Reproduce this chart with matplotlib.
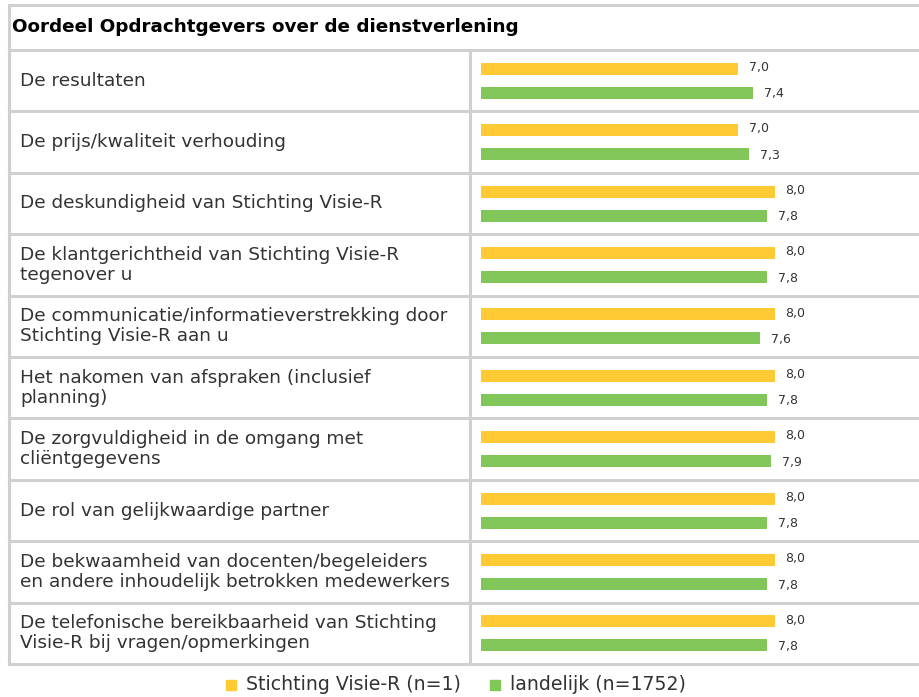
import matplotlib
matplotlib.use("Agg")
import matplotlib.pyplot as plt
from matplotlib.patches import Rectangle

title = "Oordeel Opdrachtgevers over de dienstverlening"
categories = [
    "De resultaten",
    "De prijs/kwaliteit verhouding",
    "De deskundigheid van Stichting Visie-R",
    "De klantgerichtheid van Stichting Visie-R\ntegenover u",
    "De communicatie/informatieverstrekking door\nStichting Visie-R aan u",
    "Het nakomen van afspraken (inclusief\nplanning)",
    "De zorgvuldigheid in de omgang met\ncliëntgegevens",
    "De rol van gelijkwaardige partner",
    "De bekwaamheid van docenten/begeleiders\nen andere inhoudelijk betrokken medewerkers",
    "De telefonische bereikbaarheid van Stichting\nVisie-R bij vragen/opmerkingen",
]
series_names = ["Stichting Visie-R (n=1)", "landelijk (n=1752)"]
visie = [7.0, 7.0, 8.0, 8.0, 8.0, 8.0, 8.0, 8.0, 8.0, 8.0]
landelijk = [7.4, 7.3, 7.8, 7.8, 7.6, 7.8, 7.9, 7.8, 7.8, 7.8]
colors = ["#FFCA33", "#82C65A"]

W, H = 920, 697
fig = plt.figure(figsize=(W / 100, H / 100), dpi=100)
bg = fig.add_axes([0, 0, 1, 1])
bg.set_xlim(0, W)
bg.set_ylim(H, 0)
bg.axis("off")

line_c = "#D0D0D0"
lw = 2.2
top, title_bot, bottom = 5, 50, 664
left, div = 9, 470
n = len(categories)
row_h = (bottom - title_bot) / n

# table lines
bg.plot([left, left], [top, bottom], color=line_c, lw=lw, solid_capstyle="butt")
bg.plot([left, W], [top, top], color=line_c, lw=lw)
for i in range(n + 1):
    y = title_bot + i * row_h
    bg.plot([left, W], [y, y], color=line_c, lw=lw)
bg.plot([div, div], [title_bot, bottom], color=line_c, lw=lw)

bg.text(12, 27, title, fontsize=13.2, fontweight="bold", va="center", ha="left", color="#000000")
for i, c in enumerate(categories):
    y = title_bot + (i + 0.5) * row_h
    bg.text(20, y, c, fontsize=13.3, va="center", ha="left", color="#333333", linespacing=1.12)

# bars
ax = fig.add_axes([481 / W, (H - bottom) / H, 367 / W, (bottom - title_bot) / H])
ax.set_xlim(0, 10)
ax.set_ylim(n, 0)
ax.axis("off")
off = 12 / row_h
bh = 12 / row_h
ys = [i + 0.5 for i in range(n)]
ax.barh([y - off for y in ys], visie, height=bh, color=colors[0])
ax.barh([y + off for y in ys], landelijk, height=bh, color=colors[1])
for y, v in zip(ys, visie):
    ax.text(v + 0.3, y - off - 0.02, f"{v:.1f}".replace(".", ","), fontsize=9, va="center", ha="left", color="#333333")
for y, v in zip(ys, landelijk):
    ax.text(v + 0.3, y + off + 0.02, f"{v:.1f}".replace(".", ","), fontsize=9, va="center", ha="left", color="#333333")

# legend
ly = 685
bg.add_patch(Rectangle((226, ly - 5), 10, 10, color=colors[0]))
bg.text(246, ly, series_names[0], fontsize=13.6, va="center", ha="left", color="#333333")
bg.add_patch(Rectangle((490, ly - 5), 10, 10, color=colors[1]))
bg.text(510, ly, series_names[1], fontsize=13.6, va="center", ha="left", color="#333333")

fig.savefig("out.png", dpi=100)
